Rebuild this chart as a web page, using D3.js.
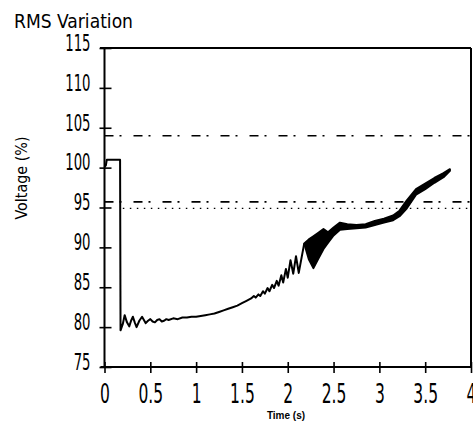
<!DOCTYPE html>
<html><head><meta charset="utf-8">
<script src="https://cdn.jsdelivr.net/npm/d3@7"></script>
<style>
body{margin:0;background:#fff;}
svg{display:block;}
text{font-family:'DejaVu Sans Condensed','DejaVu Sans',sans-serif;fill:#000;}
</style></head>
<body>
<svg id="c" width="473" height="424"></svg>
<script>
// ---- data ----
const xTicks = [0, 0.5, 1, 1.5, 2, 2.5, 3, 3.5, 4];
const xTickLabels = ["0", "0.5", "1", "1.5", "2", "2.5", "3", "3.5", "4"];
const yTicks = [75, 80, 85, 90, 95, 100, 105, 110, 115];
const yTickLabels = ["75", "80", "85", "90", "95", "100", "105", "110", "115"];

// main trace (single line part)
const lineTime = [0.00, 0.015, 0.025, 0.17, 0.175, 0.20, 0.22, 0.245, 0.27, 0.29, 0.31, 0.33, 0.35, 0.38, 0.41, 0.43, 0.45, 0.475, 0.50, 0.525, 0.55, 0.575, 0.60, 0.625, 0.65, 0.675, 0.70, 0.75, 0.80, 0.85, 0.90, 0.95, 1.00, 1.05, 1.10, 1.15, 1.20, 1.25, 1.30, 1.35, 1.40, 1.45, 1.50, 1.55, 1.60, 1.63, 1.65, 1.68, 1.70, 1.73, 1.75, 1.78, 1.80, 1.83, 1.85, 1.88, 1.90, 1.93, 1.95, 1.98, 2.00, 2.03, 2.06, 2.09, 2.12, 2.18];
const lineValue = [100.1, 100.3, 101.0, 101.0, 79.6, 80.4, 81.5, 80.6, 80.1, 80.8, 81.3, 80.6, 80.0, 80.8, 81.3, 80.9, 80.5, 80.8, 81.0, 80.7, 80.6, 80.9, 81.0, 80.7, 80.8, 81.0, 80.9, 81.1, 81.0, 81.2, 81.2, 81.3, 81.3, 81.4, 81.5, 81.6, 81.7, 81.9, 82.1, 82.3, 82.5, 82.7, 83.0, 83.3, 83.6, 83.9, 83.7, 84.1, 83.9, 84.5, 84.2, 84.9, 84.5, 85.3, 84.9, 85.8, 85.2, 86.5, 85.6, 87.3, 86.2, 88.4, 86.7, 88.9, 86.8, 90.5];

// envelope (thick band) part of the trace
const bandTime  = [2.18, 2.23, 2.28, 2.33, 2.39, 2.44, 2.50, 2.57, 2.65, 2.75, 2.85, 2.95, 3.05, 3.15, 3.22, 3.30, 3.40, 3.50, 3.60, 3.70, 3.77];
const bandUpper = [90.5, 91.0, 91.4, 91.8, 92.3, 91.9, 92.5, 93.1, 92.9, 92.8, 92.9, 93.3, 93.6, 94.0, 94.6, 95.9, 97.3, 98.0, 98.7, 99.3, 99.8];
const bandLower = [90.5, 88.5, 87.4, 88.5, 89.8, 90.6, 91.5, 92.2, 92.3, 92.4, 92.5, 92.8, 93.1, 93.4, 93.9, 94.9, 96.6, 97.3, 98.1, 98.8, 99.6];

// limit lines
const dashDotLevels = [104, 95.7];
const dottedLevel = 94.9;

// ---- drawing ----
const svg = d3.select("#c");
const x = d3.scaleLinear().domain([0, 4]).range([104.5, 471]);
const y = d3.scaleLinear().domain([75, 115]).range([367, 48]);
const FONT = "'DejaVu Sans Condensed','DejaVu Sans',sans-serif";

// title
svg.append("text").attr("x", 14).attr("y", 28).attr("font-size", 20)
  .attr("textLength", 119).attr("lengthAdjust", "spacingAndGlyphs").text("RMS Variation");

// frame top & right
svg.append("line").attr("x1", 100).attr("x2", x(4)).attr("y1", y(115)).attr("y2", y(115))
  .attr("stroke", "#000").attr("stroke-width", 2);
svg.append("line").attr("x1", x(4)).attr("x2", x(4)).attr("y1", y(115)).attr("y2", y(75))
  .attr("stroke", "#000").attr("stroke-width", 2);

// limit lines
dashDotLevels.forEach(v => {
  svg.append("line").attr("x1", x(0)).attr("x2", x(4)).attr("y1", y(v)).attr("y2", y(v))
    .attr("stroke", "#000").attr("stroke-width", 1.6).attr("stroke-dasharray", "9,6,2,12");
});
svg.append("line").attr("x1", x(0.2)).attr("x2", x(4)).attr("y1", y(dottedLevel)).attr("y2", y(dottedLevel))
  .attr("stroke", "#000").attr("stroke-width", 1.2).attr("stroke-dasharray", "1.5,5.5");

// axes
const sy = 0.64, sx = 0.64;
const yAxis = d3.axisLeft(y).tickValues(yTicks).tickFormat((d, i) => yTickLabels[i]).tickSize(5);
const gy = svg.append("g").attr("transform", `translate(${x(0)},0)`).call(yAxis);
gy.select(".domain").attr("stroke-width", 2).attr("d", `M0,${y(115)}V${y(75)}`);
gy.selectAll(".tick line").attr("x1", -5).attr("x2", 7).attr("stroke-width", 1.6);
gy.selectAll(".tick text").attr("x", -14 / sy).attr("dy", "0.36em").attr("y", -6)
  .attr("transform", `scale(${sy},1)`)
  .attr("font-size", 23).attr("font-family", FONT).attr("fill", "#000");

const xAxis = d3.axisBottom(x).tickValues(xTicks).tickFormat((d, i) => xTickLabels[i]).tickSize(5);
const gx = svg.append("g").attr("transform", `translate(0,${y(75)})`).call(xAxis);
gx.select(".domain").attr("stroke-width", 2).attr("d", `M${x(0) - 4},0H${x(4)}`);
gx.selectAll(".tick line").attr("y1", -5).attr("y2", 6).attr("stroke-width", 1.6);
gx.selectAll(".tick text").attr("y", 16).attr("dy", "0.73em")
  .attr("transform", `scale(${sx},1)`)
  .attr("font-size", 27).attr("font-family", FONT).attr("fill", "#000");

// axis titles
svg.append("text").attr("transform", `translate(27,178) rotate(-90)`).attr("text-anchor", "middle")
  .attr("font-size", 15).attr("textLength", 83).attr("lengthAdjust", "spacingAndGlyphs").text("Voltage (%)");
svg.append("text").attr("x", 286).attr("y", 419).attr("text-anchor", "middle")
  .attr("font-size", 10).attr("font-weight", "bold")
  .style("font-family", "'Liberation Sans','Arial',sans-serif").text("Time (s)");

// trace
const linePts = lineTime.map((t, i) => [t, lineValue[i]]);
svg.append("path").datum(linePts)
  .attr("d", d3.line().x(d => x(d[0])).y(d => y(d[1])))
  .attr("fill", "none").attr("stroke", "#000").attr("stroke-width", 2).attr("stroke-linejoin", "round");

const bandPts = bandTime.map((t, i) => ({t, hi: bandUpper[i], lo: bandLower[i]}));
svg.append("path").datum(bandPts)
  .attr("d", d3.area().x(d => x(d.t)).y0(d => y(d.lo)).y1(d => y(d.hi)))
  .attr("fill", "#000").attr("stroke", "#000").attr("stroke-width", 2).attr("stroke-linejoin", "round");
</script>
</body></html>
